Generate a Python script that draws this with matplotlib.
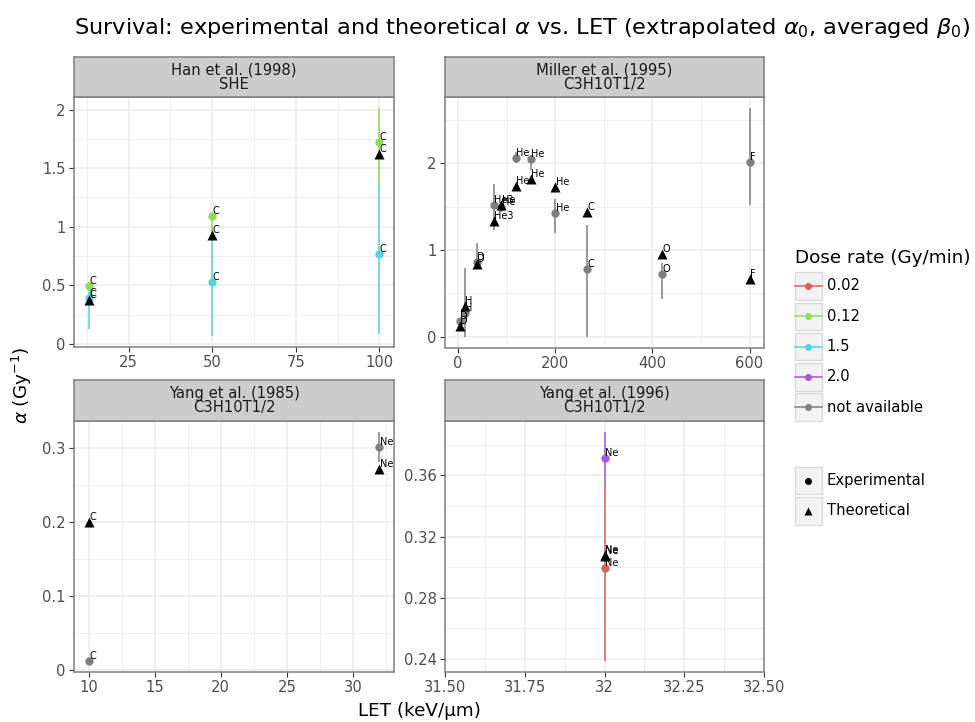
import numpy as np
import matplotlib.pyplot as plt
from matplotlib.patches import Rectangle
from matplotlib.ticker import AutoMinorLocator, FixedLocator, FixedFormatter

W, H = 975, 722

dose_levels = ['0.02', '0.12', '1.5', '2.0', 'not available']
dose_colors = ['#DB5F57', '#91DB57', '#57D3DB', '#A157DB', '#7F7F7F']

# Han et al. (1998), SHE
han_exp_let = [13, 13, 50, 50, 100, 100]
han_exp_alpha = [0.39, 0.496, 0.53, 1.09, 0.77, 1.72]
han_exp_lo = [0.13, 0.46, 0.07, 0.96, 0.085, 1.375]
han_exp_hi = [0.50, 0.53, 0.98, 1.12, 1.37, 2.01]
han_exp_dose = ['1.5', '0.12', '1.5', '0.12', '1.5', '0.12']
han_exp_ion = ['C', 'C', 'C', 'C', 'C', 'C']
han_th_let = [13, 50, 100]
han_th_alpha = [0.377, 0.93, 1.62]
han_th_ion = ['C', 'C', 'C']

# Miller et al. (1995), C3H10T1/2
mil_exp_let = [3, 14, 39, 74, 89, 119, 150, 200, 265, 420, 600]
mil_exp_alpha = [0.185, 0.27, 0.86, 1.515, 1.50, 2.065, 2.046, 1.423, 0.777, 0.72, 2.02]
mil_exp_lo = [0.17, 0.0, 0.81, 1.23, 1.46, 2.0, 1.92, 1.2, 0.0, 0.43, 1.52]
mil_exp_hi = [0.20, 0.79, 1.077, 1.76, 1.54, 2.13, 2.10, 1.585, 1.288, 0.854, 2.635]
mil_exp_dose = ['not available'] * 11
mil_exp_ion = ['D', 'H', 'D', 'He3', 'He', 'He', 'He', 'He', 'C', 'O', 'F']
mil_th_let = [3, 14, 39, 74, 89, 119, 150, 200, 265, 420, 600]
mil_th_alpha = [0.123, 0.354, 0.835, 1.34, 1.52, 1.74, 1.815, 1.73, 1.44, 0.954, 0.665]
mil_th_ion = ['D', 'H', 'D', 'He3', 'He', 'He', 'He', 'He', 'C', 'O', 'F']

# Yang et al. (1985), C3H10T1/2
y85_exp_let = [10, 32]
y85_exp_alpha = [0.013, 0.301]
y85_exp_lo = [0.013, 0.281]
y85_exp_hi = [0.013, 0.321]
y85_exp_dose = ['not available', 'not available']
y85_exp_ion = ['C', 'Ne']
y85_th_let = [10, 32]
y85_th_alpha = [0.2, 0.271]
y85_th_ion = ['C', 'Ne']

# Yang et al. (1996), C3H10T1/2
y96_exp_let = [32, 32]
y96_exp_alpha = [0.2996, 0.371]
y96_exp_lo = [0.239, 0.353]
y96_exp_hi = [0.353, 0.388]
y96_exp_dose = ['0.02', '2.0']
y96_exp_ion = ['Ne', 'Ne']
y96_th_let = [32, 32]
y96_th_alpha = [0.307, 0.308]
y96_th_ion = ['Ne', 'Ne']

color_of = dict(zip(dose_levels, dose_colors))

fig = plt.figure(figsize=(W / 100, H / 100), dpi=100)


def px_axes(left, top, right, bottom):
    return fig.add_axes([left / W, 1 - bottom / H, (right - left) / W, (bottom - top) / H])


def draw_panel(box, strip_top, strip_text, ex, ea, elo, ehi, edose, eion, tx, ta, tion,
               xticks, xlabels, yticks, ylabels, xlim=None):
    left, top, right, bottom = box
    ax = px_axes(left, top, right, bottom)
    for x, lo, hi, d in zip(ex, elo, ehi, edose):
        ax.vlines(x, lo, hi, color=color_of[d], lw=1.1, zorder=2)
    for x, a, d in zip(ex, ea, edose):
        ax.plot(x, a, 'o', ms=6, color=color_of[d], mec='none', zorder=3)
    ax.plot(tx, ta, '^', ms=6.5, color='black', mec='none', ls='none', zorder=4)
    for x, a, s in list(zip(ex, ea, eion)) + list(zip(tx, ta, tion)):
        ax.annotate(s, (x, a), xytext=(0.5, 5), textcoords='offset pixels',
                    fontsize=7, ha='left', va='center', color='black', zorder=5)
    if xlim is not None:
        ax.set_xlim(*xlim)
    ax.xaxis.set_major_locator(FixedLocator(xticks))
    ax.xaxis.set_major_formatter(FixedFormatter(xlabels))
    ax.yaxis.set_major_locator(FixedLocator(yticks))
    ax.yaxis.set_major_formatter(FixedFormatter(ylabels))
    ax.xaxis.set_minor_locator(AutoMinorLocator(2))
    ax.yaxis.set_minor_locator(AutoMinorLocator(2))
    ax.set_axisbelow(True)
    ax.grid(which='major', color='#EBEBEB', lw=1.1)
    ax.grid(which='minor', color='#EBEBEB', lw=0.55)
    ax.tick_params(which='major', length=3.5, width=0.8, color='#333333',
                   labelsize=10.6, labelcolor='#4D4D4D', pad=2.5)
    ax.tick_params(which='minor', length=0)
    for sp in ax.spines.values():
        sp.set_color('#7F7F7F')
        sp.set_linewidth(1.1)
    st = px_axes(left, strip_top, right, top)
    st.set_facecolor('#CCCCCC')
    st.set_xticks([])
    st.set_yticks([])
    for sp in st.spines.values():
        sp.set_color('#7F7F7F')
        sp.set_linewidth(1.1)
    st.text(0.5, 0.5, strip_text, transform=st.transAxes, ha='center', va='center',
            fontsize=10.6, color='#1A1A1A', linespacing=0.95)
    return ax


draw_panel((74, 97, 394, 347), 57, 'Han et al. (1998)\nSHE',
           han_exp_let, han_exp_alpha, han_exp_lo, han_exp_hi, han_exp_dose, han_exp_ion,
           han_th_let, han_th_alpha, han_th_ion,
           [25, 50, 75, 100], ['25', '50', '75', '100'],
           [0, 0.5, 1, 1.5, 2], ['0', '0.5', '1', '1.5', '2'])

draw_panel((445, 97, 764, 348), 57, 'Miller et al. (1995)\nC3H10T1/2',
           mil_exp_let, mil_exp_alpha, mil_exp_lo, mil_exp_hi, mil_exp_dose, mil_exp_ion,
           mil_th_let, mil_th_alpha, mil_th_ion,
           [0, 200, 400, 600], ['0', '200', '400', '600'],
           [0, 1, 2], ['0', '1', '2'])

draw_panel((74, 421, 394, 672), 380, 'Yang et al. (1985)\nC3H10T1/2',
           y85_exp_let, y85_exp_alpha, y85_exp_lo, y85_exp_hi, y85_exp_dose, y85_exp_ion,
           y85_th_let, y85_th_alpha, y85_th_ion,
           [10, 15, 20, 25, 30], ['10', '15', '20', '25', '30'],
           [0, 0.1, 0.2, 0.3], ['0', '0.1', '0.2', '0.3'])

draw_panel((445, 421, 764, 672), 380, 'Yang et al. (1996)\nC3H10T1/2',
           y96_exp_let, y96_exp_alpha, y96_exp_lo, y96_exp_hi, y96_exp_dose, y96_exp_ion,
           y96_th_let, y96_th_alpha, y96_th_ion,
           [31.5, 31.75, 32, 32.25, 32.5], ['31.50', '31.75', '32', '32.25', '32.50'],
           [0.24, 0.28, 0.32, 0.36], ['0.24', '0.28', '0.32', '0.36'],
           xlim=(31.5, 32.5))

# titles
fig.text(522 / W, 1 - 28 / H,
         r'Survival: experimental and theoretical $\alpha$ vs. LET (extrapolated $\alpha_0$, averaged $\beta_0$)',
         ha='center', va='center', fontsize=16.2)
fig.text(420 / W, 1 - 711 / H, 'LET (keV/µm)', ha='center', va='center', fontsize=13.2)
fig.text(22 / W, 1 - 385 / H, r'$\alpha$ (Gy$^{-1}$)', ha='center', va='center',
         rotation=90, fontsize=13.2)

# legend
leg = fig.add_axes([0, 0, 1, 1], facecolor='none')
leg.set_xlim(0, W)
leg.set_ylim(H, 0)
leg.axis('off')
leg.text(795, 258, 'Dose rate (Gy/min)', fontsize=13.2, ha='left', va='center')
for i, (lab, col) in enumerate(zip(dose_levels, dose_colors)):
    yc = 286 + i * 30.3
    leg.add_patch(Rectangle((794.5, yc - 13.8), 27.5, 27.6, facecolor='#F2F2F2',
                            edgecolor='#D9D9D9', lw=1))
    leg.plot([794.5, 822], [yc, yc], color=col, lw=1.1)
    leg.plot(808.3, yc, 'o', color=col, ms=5, mec='none')
    leg.text(826.7, yc, lab, fontsize=10.6, ha='left', va='center')

shape_labels = ['Experimental', 'Theoretical']
shape_markers = ['o', '^']
shape_sizes = [5, 6]
for i, (lab, mk, ms) in enumerate(zip(shape_labels, shape_markers, shape_sizes)):
    yc = 480.5 + i * 30.3
    leg.add_patch(Rectangle((794.5, yc - 13.8), 27.5, 27.6, facecolor='#F2F2F2',
                            edgecolor='#D9D9D9', lw=1))
    leg.plot(808.3, yc, mk, color='black', ms=ms, mec='none')
    leg.text(826.7, yc, lab, fontsize=10.6, ha='left', va='center')

fig.savefig('out.png', dpi=100)
